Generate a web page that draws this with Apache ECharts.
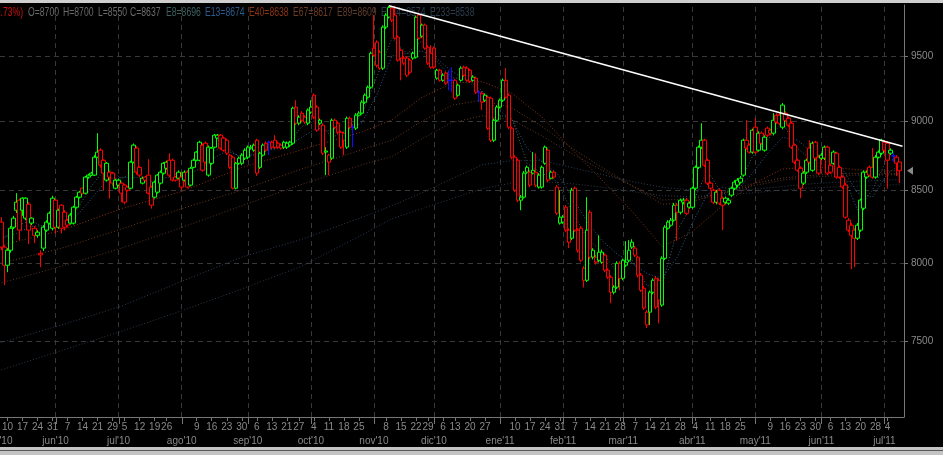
<!DOCTYPE html>
<html>
<head>
<meta charset="utf-8">
<title>Velas diarias may'10 - jul'11</title>
<script src="https://cdn.jsdelivr.net/npm/echarts@6.0.0/dist/echarts.min.js"></script>
<style>
  html, body { margin: 0; padding: 0; background: #000; }
  #chart { width: 943px; height: 455px; }
</style>
</head>
<body>
<div id="chart"></div>
<script>
// trading calendar, one list of days per month
const monthKeys = ['2010-05', '2010-06', '2010-07', '2010-08', '2010-09', '2010-10', '2010-11', '2010-12',
  '2011-01', '2011-02', '2011-03', '2011-04', '2011-05', '2011-06', '2011-07'];
const monthNames = ["may'10", "jun'10", "jul'10", "ago'10", "sep'10", "oct'10", "nov'10", "dic'10",
  "ene'11", "feb'11", "mar'11", "abr'11", "may'11", "jun'11", "jul'11"];
const monthDays = [
  [6, 7, 10, 11, 12, 13, 14, 17, 18, 19, 20, 21, 24, 25, 26, 27, 28, 31],
  [1, 2, 3, 4, 7, 8, 9, 10, 11, 14, 15, 16, 17, 18, 21, 22, 23, 24, 25, 29, 30],
  [1, 2, 5, 6, 7, 8, 9, 12, 13, 14, 15, 16, 19, 21, 22, 23, 26, 27, 28, 29, 30],
  [2, 3, 4, 5, 6, 9, 10, 11, 12, 13, 16, 17, 18, 19, 20, 23, 24, 25, 26, 27, 30, 31],
  [1, 2, 3, 6, 7, 8, 9, 10, 13, 14, 15, 16, 17, 21, 22, 23, 24, 27, 28, 29, 30],
  [1, 4, 5, 6, 7, 8, 11, 12, 13, 14, 15, 18, 19, 20, 21, 22, 25, 26, 27, 28, 29],
  [2, 3, 4, 5, 8, 9, 10, 11, 12, 15, 16, 17, 18, 19, 22, 23, 24, 26, 29, 30],
  [1, 2, 3, 6, 7, 9, 10, 13, 14, 15, 16, 17, 20, 21, 22, 23, 24, 27, 28, 29, 30, 31],
  [3, 4, 5, 6, 7, 10, 11, 12, 13, 14, 17, 18, 19, 20, 21, 24, 25, 26, 27, 28, 31],
  [1, 2, 3, 4, 7, 8, 9, 10, 11, 14, 15, 16, 17, 18, 21, 22, 23, 24, 25, 28],
  [1, 2, 3, 4, 7, 8, 9, 10, 11, 14, 15, 16, 17, 18, 21, 22, 23, 24, 25, 28, 29, 30, 31],
  [1, 4, 5, 6, 7, 8, 11, 12, 13, 14, 15, 18, 19, 20, 21, 22, 25, 26, 27, 28, 29],
  [2, 3, 4, 5, 6, 9, 10, 11, 12, 13, 16, 17, 18, 19, 20, 23, 24, 25, 26, 27, 30, 31],
  [1, 2, 3, 6, 7, 8, 9, 10, 13, 14, 15, 16, 17, 20, 21, 22, 23, 24, 28, 29, 30],
  [1, 4, 5, 6, 7, 8]
];

// daily OHLC
const open = [
  8277, 8107, 7986, 8086, 8242, 8359, 8429, 8359, 8304, 8401,
  8270, 8235, 8187, 8065, 8100, 8222, 8270, 8235, 8429, 8242,
  8394, 8345, 8290, 8270, 8270, 8380, 8450, 8513, 8478, 8592,
  8606, 8606, 8735, 8786, 8713, 8570, 8627, 8620, 8513, 8535,
  8549, 8535, 8521, 8513, 8699, 8801, 8662, 8549, 8592, 8606,
  8521, 8450, 8485, 8549, 8620, 8655, 8713, 8713, 8592, 8584,
  8592, 8570, 8627, 8535, 8662, 8713, 8713, 8823, 8837, 8606,
  8691, 8808, 8875, 8896, 8875, 8859, 8750, 8735, 8513, 8691,
  8691, 8728, 8735, 8801, 8786, 8859, 8662, 8750, 8837, 8844,
  8844, 8859, 8837, 8823, 8808, 8808, 8823, 8837, 9106, 8985,
  9060, 9030, 8985, 9068, 9196, 9106, 8985, 8970, 8772, 8750,
  8728, 9007, 8985, 8918, 8911, 8808, 9022, 8955, 8948, 9045,
  9060, 9143, 9181, 9257, 9562, 9610, 9530, 9405, 9731, 9812,
  9885, 9828, 9650, 9546, 9484, 9484, 9467, 9484, 9491, 9828,
  9658, 9747, 9570, 9522, 9562, 9327, 9389, 9311, 9366, 9311,
  9311, 9311, 9196, 9311, 9412, 9405, 9389, 9311, 9327, 9219,
  9211, 9158, 9181, 9173, 8859, 9007, 9106, 9158, 9311, 9196,
  8948, 8735, 8713, 8429, 8450, 8627, 8627, 8620, 8627, 8521,
  8521, 8691, 8786, 8584, 8627, 8521, 8270, 8277, 8380, 8222,
  8167, 8513, 8222, 8235, 7966, 7887, 8345, 8040, 8040, 8019,
  8006, 8053, 7953, 7907, 7809, 7842, 7999, 7900, 7986, 8019,
  8107, 8100, 8040, 7920, 7835, 7681, 7681, 7809, 7900, 7887,
  7726, 8032, 8235, 8256, 8290, 8394, 8345, 8415, 8429, 8380,
  8380, 8513, 8662, 8808, 8859, 8713, 8549, 8499, 8415, 8499,
  8443, 8415, 8408, 8464, 8513, 8535, 8556, 8606, 8859, 8823,
  8772, 8955, 8786, 8911, 8786, 8948, 8933, 8911, 9045, 9045,
  8955, 9060, 9022, 8985, 8823, 8713, 8655, 8549, 8627, 8801,
  8641, 8844, 8735, 8728, 8728, 8808, 8677, 8691, 8764, 8662,
  8592, 8535, 8290, 8256, 8222, 8167, 8222, 8373, 8592, 8662,
  8662, 8592, 8735, 8764, 8844, 8837, 8764, 8745, 8735, 8700
];
const high = [
  8311, 8120, 8100, 8250, 8320, 8478, 8440, 8450, 8450, 8415,
  8310, 8250, 8222, 8086, 8256, 8290, 8350, 8460, 8440, 8370,
  8400, 8360, 8300, 8340, 8390, 8460, 8495, 8520, 8600, 8615,
  8630, 8750, 8911, 8800, 8720, 8700, 8640, 8630, 8580, 8580,
  8560, 8545, 8530, 8710, 8835, 8815, 8670, 8595, 8600, 8720,
  8530, 8565, 8615, 8640, 8700, 8710, 8764, 8725, 8600, 8640,
  8630, 8640, 8640, 8665, 8725, 8780, 8855, 8835, 8850, 8820,
  8810, 8905, 8905, 8905, 8885, 8870, 8760, 8745, 8700, 8740,
  8764, 8800, 8820, 8825, 8835, 8870, 8775, 8835, 8850, 8855,
  8855, 8896, 8850, 8835, 8855, 8850, 8855, 9110, 9158, 9045,
  9075, 9045, 9095, 9158, 9210, 9120, 9020, 8985, 8808, 8760,
  9020, 9020, 8995, 8930, 8920, 9035, 9035, 8970, 9060, 9075,
  9158, 9210, 9270, 9535, 9828, 9625, 9545, 9745, 9845, 9905,
  9905, 9905, 9665, 9560, 9500, 9500, 9480, 9535, 9825, 9845,
  9760, 9760, 9585, 9586, 9575, 9400, 9400, 9365, 9380, 9389,
  9412, 9320, 9285, 9420, 9425, 9420, 9400, 9350, 9340, 9234,
  9225, 9210, 9195, 9185, 9020, 9120, 9170, 9325, 9405, 9210,
  8960, 8750, 8725, 8465, 8635, 8675, 8640, 8772, 8764, 8620,
  8675, 8820, 8800, 8640, 8640, 8535, 8499, 8325, 8395, 8235,
  8515, 8525, 8235, 8250, 7980, 8450, 8360, 8100, 8055, 8187,
  8090, 8065, 7965, 7920, 7855, 8012, 8012, 8030, 8147, 8154,
  8160, 8115, 8050, 7935, 7850, 7695, 7820, 7900, 7915, 7900,
  8045, 8256, 8290, 8305, 8410, 8410, 8440, 8445, 8445, 8420,
  8525, 8675, 8820, 8985, 8870, 8725, 8560, 8510, 8500, 8510,
  8455, 8455, 8445, 8525, 8570, 8585, 8600, 8870, 9007, 8835,
  8945, 9022, 8925, 8925, 8895, 8960, 8945, 9060, 9060, 9060,
  9136, 9075, 9035, 9000, 8835, 8725, 8670, 8635, 8725, 8859,
  8850, 8855, 8750, 8765, 8820, 8820, 8690, 8785, 8775, 8675,
  8605, 8550, 8305, 8270, 8235, 8270, 8440, 8640, 8640, 8675,
  8801, 8750, 8785, 8870, 8860, 8850, 8800, 8770, 8750, 8700
];
const low = [
  8086, 7855, 7940, 8070, 8230, 8340, 8154, 8320, 8290, 8128,
  8256, 8134, 8170, 7973, 8080, 8210, 8260, 8220, 8200, 8230,
  8200, 8220, 8240, 8260, 8260, 8370, 8440, 8470, 8470, 8580,
  8600, 8600, 8730, 8660, 8500, 8560, 8440, 8530, 8505, 8525,
  8415, 8400, 8490, 8505, 8690, 8610, 8590, 8540, 8560, 8470,
  8370, 8440, 8475, 8540, 8610, 8645, 8592, 8560, 8560, 8575,
  8500, 8560, 8510, 8525, 8655, 8705, 8705, 8630, 8690, 8595,
  8680, 8800, 8870, 8790, 8775, 8750, 8650, 8505, 8505, 8680,
  8677, 8715, 8720, 8790, 8775, 8600, 8650, 8740, 8775, 8750,
  8795, 8795, 8795, 8790, 8795, 8795, 8810, 8825, 8970, 8970,
  8990, 8980, 8970, 9055, 9015, 8920, 8970, 8750, 8606, 8606,
  8715, 8940, 8905, 8795, 8750, 8795, 8940, 8808, 8935, 9035,
  9050, 9130, 9170, 9245, 9495, 9410, 9390, 9390, 9715, 9800,
  9770, 9630, 9455, 9311, 9430, 9335, 9360, 9470, 9480, 9630,
  9645, 9550, 9430, 9400, 9400, 9315, 9300, 9300, 9275, 9234,
  9220, 9160, 9185, 9300, 9335, 9300, 9290, 9300, 9205, 9143,
  9083, 9145, 8935, 8845, 8845, 8995, 9095, 9145, 9170, 8940,
  8720, 8485, 8415, 8359, 8440, 8615, 8520, 8610, 8520, 8510,
  8510, 8680, 8555, 8575, 8580, 8325, 8260, 8265, 8210, 8100,
  8154, 8210, 8070, 8005, 7840, 7875, 8025, 8025, 7990, 8005,
  7995, 7940, 7895, 7738, 7795, 7830, 7822, 7887, 7975, 8005,
  8095, 8040, 7905, 7810, 7695, 7580, 7600, 7795, 7700, 7610,
  7715, 8020, 8225, 8245, 8280, 8150, 8330, 8400, 8325, 8370,
  8370, 8500, 8650, 8795, 8665, 8535, 8500, 8400, 8400, 8395,
  8222, 8400, 8395, 8450, 8500, 8520, 8545, 8595, 8790, 8760,
  8760, 8760, 8775, 8825, 8775, 8880, 8895, 8895, 8980, 8970,
  8940, 8995, 8955, 8795, 8685, 8630, 8443, 8535, 8615, 8685,
  8630, 8715, 8605, 8715, 8715, 8605, 8615, 8680, 8580, 8580,
  8510, 8300, 8210, 7960, 7973, 8155, 8210, 8360, 8580, 8595,
  8580, 8580, 8725, 8750, 8775, 8510, 8750, 8700, 8600, 8550
];
const close = [
  8107, 7986, 8086, 8235, 8304, 8415, 8222, 8443, 8443, 8222,
  8304, 8187, 8208, 8055, 8242, 8277, 8338, 8443, 8242, 8359,
  8235, 8242, 8256, 8325, 8380, 8450, 8485, 8478, 8592, 8606,
  8620, 8735, 8772, 8677, 8620, 8691, 8592, 8549, 8570, 8570,
  8478, 8415, 8499, 8699, 8823, 8627, 8606, 8584, 8570, 8478,
  8394, 8556, 8606, 8627, 8691, 8699, 8606, 8570, 8570, 8627,
  8521, 8627, 8521, 8655, 8713, 8772, 8844, 8641, 8699, 8808,
  8801, 8896, 8896, 8801, 8786, 8764, 8662, 8513, 8691, 8728,
  8750, 8786, 8808, 8808, 8823, 8620, 8764, 8823, 8786, 8844,
  8808, 8808, 8808, 8801, 8844, 8837, 8844, 9098, 8985, 9030,
  9007, 8993, 9083, 9106, 9030, 8933, 9007, 8764, 8780, 8699,
  9007, 8955, 8918, 8808, 8859, 9022, 8955, 8955, 9045, 9060,
  9143, 9196, 9257, 9522, 9507, 9428, 9405, 9731, 9828, 9890,
  9787, 9642, 9467, 9484, 9444, 9350, 9373, 9522, 9811, 9642,
  9747, 9562, 9444, 9412, 9412, 9389, 9311, 9350, 9288, 9311,
  9311, 9173, 9273, 9405, 9350, 9311, 9303, 9335, 9219, 9219,
  9143, 9196, 8948, 8859, 9007, 9106, 9158, 9311, 9181, 8955,
  8735, 8499, 8429, 8450, 8620, 8662, 8535, 8641, 8535, 8606,
  8662, 8808, 8570, 8627, 8592, 8338, 8311, 8311, 8222, 8140,
  8499, 8222, 8086, 8019, 7887, 8222, 8040, 8086, 8006, 8073,
  8073, 7953, 7907, 7809, 7842, 7999, 7900, 8019, 8006, 8086,
  8140, 8053, 7920, 7822, 7707, 7600, 7809, 7887, 7713, 7758,
  8032, 8242, 8277, 8290, 8394, 8345, 8429, 8429, 8338, 8408,
  8513, 8662, 8808, 8859, 8677, 8549, 8513, 8415, 8485, 8408,
  8394, 8443, 8429, 8513, 8556, 8570, 8584, 8859, 8801, 8772,
  8933, 8772, 8911, 8837, 8881, 8896, 8911, 9007, 8993, 8985,
  9121, 9007, 8970, 8808, 8699, 8641, 8513, 8620, 8713, 8699,
  8837, 8728, 8620, 8750, 8808, 8620, 8627, 8772, 8592, 8592,
  8521, 8311, 8222, 8187, 8167, 8256, 8429, 8627, 8627, 8606,
  8592, 8735, 8772, 8859, 8786, 8713, 8786, 8745, 8691, 8637
];

// moving averages (fast ones every 5 sessions, slow ones sparser)
const fastIdx = [0, 5, 10, 15, 20, 25, 30, 35, 40, 45, 50, 55, 60, 65, 70, 75, 80, 85, 90, 95,
  100, 105, 110, 115, 120, 125, 130, 135, 140, 145, 150, 155, 160, 165, 170, 175, 180, 185, 190, 195,
  200, 205, 210, 215, 220, 225, 230, 235, 240, 245, 250, 255, 260, 265, 270, 275, 280, 285, 290, 295, 299];
const e8 = [8150, 8250, 8290, 8230, 8300, 8360, 8530, 8660, 8580, 8640, 8520, 8630, 8600, 8680, 8780, 8810, 8720, 8760, 8800, 8820,
  8960, 9010, 8880, 8930, 9050, 9340, 9640, 9520, 9620, 9460, 9330, 9320, 9230, 9050, 9020, 8690, 8620, 8560, 8350, 8170,
  8070, 7940, 8020, 7850, 7860, 8220, 8400, 8640, 8470, 8510, 8740, 8860, 8990, 8800, 8710, 8720, 8620, 8360, 8500, 8730, 8696];
const e13 = [8170, 8200, 8250, 8250, 8280, 8320, 8440, 8570, 8590, 8590, 8560, 8590, 8600, 8640, 8720, 8780, 8740, 8760, 8790, 8810,
  8880, 8950, 8920, 8920, 8990, 9200, 9500, 9520, 9540, 9480, 9380, 9310, 9200, 9090, 9010, 8800, 8700, 8620, 8450, 8280,
  8150, 8060, 8000, 7930, 7900, 8040, 8270, 8470, 8520, 8500, 8620, 8760, 8880, 8860, 8770, 8720, 8650, 8480, 8450, 8620, 8674];
const slowIdx = [0, 20, 40, 60, 80, 100, 120, 130, 140, 150, 160, 170, 180, 190, 200, 210, 220, 230, 240, 250, 260, 270, 280, 290, 299];
const e40 = [8120, 8220, 8370, 8490, 8660, 8790, 8920, 9010, 9180, 9290, 9300, 9210, 9030, 8790, 8570, 8350, 8110, 8210, 8390, 8540, 8650, 8665, 8655, 8635, 8638];
const e67 = [8000, 8100, 8230, 8370, 8500, 8650, 8790, 8860, 9000, 9120, 9160, 9100, 8960, 8800, 8660, 8530, 8400, 8420, 8480, 8545, 8585, 8605, 8620, 8615, 8617];
const e89 = [7870, 7980, 8100, 8240, 8390, 8540, 8680, 8740, 8870, 8990, 9040, 9010, 8890, 8760, 8640, 8530, 8430, 8440, 8480, 8530, 8570, 8592, 8605, 8607, 8609];
const e144 = [7490, 7600, 7720, 7880, 8040, 8160, 8310, 8390, 8480, 8580, 8680, 8710, 8710, 8660, 8610, 8560, 8520, 8500, 8495, 8505, 8525, 8545, 8558, 8566, 8574];
const e233 = [7322, 7440, 7560, 7690, 7830, 7980, 8190, 8300, 8370, 8440, 8510, 8550, 8560, 8545, 8520, 8490, 8460, 8455, 8465, 8480, 8500, 8515, 8525, 8532, 8538];

// resistance line drawn on the chart
const trendIdx = [129, 300];
const trendVal = [9905, 8815];

const yTicks = [7500, 8000, 8500, 9000, 9500];

const legendText = ['(-0.73%)', 'O=8700', 'H=8700', 'L=8550', 'C=8637', 'E8=8696', 'E13=8674',
  'E40=8638', 'E67=8617', 'E89=8609', 'E144=8574', 'E233=8538'];
const legendColor = ['#d01010', '#6a6a6a', '#6a6a6a', '#6a6a6a', '#6a6a6a', '#3d5f5f', '#2c5a8c',
  '#8a3414', '#6e3c22', '#5e3c2c', '#2c3c4e', '#2c3c4e'];
const legendX = [-10, 28, 63, 98, 130, 166, 205, 249, 293, 337, 381, 430];

// categories and label flags
const cats = [];
const monthLabel = [];
const isMonthStart = [];
monthKeys.forEach((mk, m) => {
  monthDays[m].forEach((d, j) => {
    cats.push(mk + '-' + String(d).padStart(2, '0'));
    monthLabel.push(j === 0 ? monthNames[m] : '');
    isMonthStart.push(j === 0);
  });
});
cats.push('');
monthLabel.push('');
isMonthStart.push(false);

function weekKey(s) {
  if (!s) return -1;
  const p = s.split('-').map(Number);
  const t = Date.UTC(p[0], p[1] - 1, p[2]);
  const dow = (new Date(t).getUTCDay() + 6) % 7;
  return t - dow * 86400000;
}
const isWeekLabel = cats.map((c, i) =>
  !!c && !isMonthStart[i] && (i === 0 || weekKey(c) !== weekKey(cats[i - 1])));

const ohlc = open.map((o, i) => [o, close[i], low[i], high[i]]);

function pairs(idx, vals) {
  return idx.map((x, i) => [x, vals[i]]);
}

function emaSeries(name, idx, vals, color) {
  return {
    name: name,
    type: 'line',
    data: pairs(idx, vals),
    symbol: 'none',
    smooth: false,
    silent: true,
    z: 1,
    lineStyle: { color: color, width: 1, type: [1, 2] }
  };
}

const axisGrey = '#767676';
const gridLine = { color: '#383838', type: [5, 4], width: 1 };
const labelFont = { color: '#8a8a8a', fontSize: 10, fontFamily: 'Liberation Sans, Arial, sans-serif' };

// month dividers as vertical mark lines on the category axis
const monthMarks = [];
isMonthStart.forEach((ms, i) => {
  if (ms && i > 0) monthMarks.push({ xAxis: i });
});

const chart = echarts.init(document.getElementById('chart'));
chart.setOption({
  backgroundColor: '#000',
  animation: false,
  grid: { left: 0, right: 39, top: 5, bottom: 38, outerBoundsMode: 'none' },
  xAxis: [
    {
      type: 'category',
      data: cats,
      boundaryGap: true,
      axisLine: { show: true, lineStyle: { color: axisGrey } },
      axisTick: {
        show: true, alignWithLabel: true, length: 4,
        interval: (i) => isWeekLabel[i],
        lineStyle: { color: axisGrey }
      },
      axisLabel: Object.assign({
        interval: (i) => isWeekLabel[i],
        margin: 5,
        formatter: (v) => (v ? String(Number(v.slice(8))) : '')
      }, labelFont),
      splitLine: { show: false }
    },
    {
      type: 'category',
      data: cats,
      position: 'bottom',
      boundaryGap: true,
      axisLine: { show: false },
      axisTick: { show: false },
      axisLabel: Object.assign({
        interval: (i) => isMonthStart[i],
        margin: 19,
        formatter: (v, i) => (i === 0 ? '{first|' + monthLabel[i] + '}' : monthLabel[i]),
        rich: { first: Object.assign({ padding: [0, 10, 0, 0] }, labelFont) }
      }, labelFont),
      splitLine: { show: false }
    }
  ],
  yAxis: {
    type: 'log',
    logBase: 10,
    min: 7041,
    max: 9911,
    position: 'right',
    axisLine: { show: true, lineStyle: { color: axisGrey } },
    axisTick: { show: true, length: 4, customValues: yTicks, lineStyle: { color: axisGrey } },
    axisLabel: Object.assign({
      customValues: yTicks,
      margin: 7,
      formatter: (v) => String(Math.round(v))
    }, labelFont),
    splitLine: { show: true, lineStyle: gridLine }
  },
  series: [
    emaSeries('E233', slowIdx, e233, '#2a3a4c'),
    emaSeries('E144', slowIdx, e144, '#2c3e52'),
    emaSeries('E89', slowIdx, e89, '#5a3826'),
    emaSeries('E67', slowIdx, e67, '#6c3a1e'),
    emaSeries('E40', slowIdx, e40, '#8a3414'),
    emaSeries('E13', fastIdx, e13, '#2c5a8c'),
    emaSeries('E8', fastIdx, e8, '#3d6464'),
    {
      name: 'precio',
      type: 'candlestick',
      data: ohlc,
      barWidth: 4,
      z: 2,
      itemStyle: {
        color: '#000',
        color0: '#000',
        borderColor: '#00ff00',
        borderColor0: '#ff0000',
        borderColorDoji: '#1010ff',
        borderWidth: 1
      },
      markLine: {
        silent: true,
        symbol: ['none', 'none'],
        label: { show: false },
        z: 0,
        lineStyle: { color: gridLine.color, type: gridLine.type, width: 1 },
        data: monthMarks
      }
    },
    {
      name: 'tendencia',
      type: 'line',
      data: pairs(trendIdx, trendVal),
      symbol: 'none',
      silent: true,
      z: 3,
      lineStyle: { color: '#ffffff', width: 1.5 }
    }
  ]
});

// month ticks, header readout, window bars and last-price marker
const gridRect = chart.getModel().getComponent('grid', 0).coordinateSystem.getRect();
const plotRight = gridRect.x + gridRect.width;
const plotBottom = gridRect.y + gridRect.height;
const band = gridRect.width / cats.length;
const lastY = chart.convertToPixel({ yAxisIndex: 0 }, close[close.length - 1]);
const graphics = [];
isMonthStart.forEach((ms, i) => {
  if (!ms || i === 0) return;
  const x = Math.round(gridRect.x + (i + 0.5) * band) + 0.5;
  graphics.push({
    type: 'line', silent: true, z: 5,
    shape: { x1: x, y1: plotBottom, x2: x, y2: plotBottom + 7 },
    style: { stroke: axisGrey, lineWidth: 1 }
  });
});
graphics.push(
  { type: 'rect', shape: { x: 0, y: 0, width: 943, height: 3 }, style: { fill: '#cfcfcf' }, z: 10 },
  { type: 'rect', shape: { x: 0, y: 447, width: 943, height: 8 }, style: { fill: '#c4c4c4' }, z: 10 },
  { type: 'rect', shape: { x: 0, y: 450, width: 943, height: 1 }, style: { fill: '#5a5a5a' }, z: 10 },
  {
    type: 'polygon',
    shape: { points: [[plotRight + 3, lastY], [plotRight + 9, lastY - 4], [plotRight + 9, lastY + 4]] },
    style: { fill: '#8a8a8a' },
    z: 10
  }
);
legendText.forEach((t, i) => {
  graphics.push({
    type: 'text',
    x: legendX[i],
    y: 7,
    scaleX: 0.72,
    z: 0,
    style: {
      text: t,
      fill: legendColor[i],
      font: '12px "Liberation Sans", Arial, sans-serif'
    }
  });
});
chart.setOption({ graphic: graphics });
</script>
</body>
</html>
